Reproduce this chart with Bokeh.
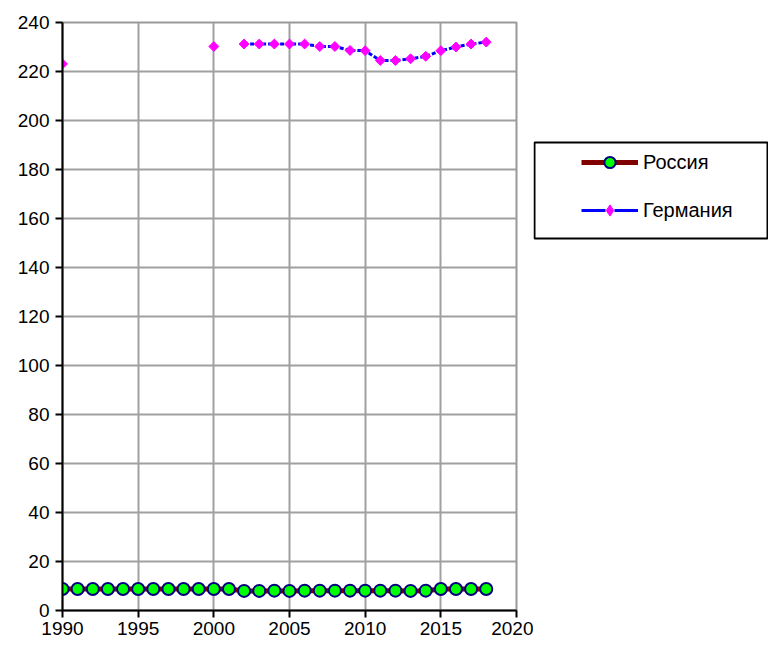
import numpy as np
from bokeh.plotting import figure
from bokeh.layouts import row
from bokeh.models import (ColumnDataSource, Range1d, FixedTicker, Legend, LegendItem,
                          BoxAnnotation)
from bokeh.embed import file_html
from bokeh.resources import INLINE

# ---- data ----
years = list(range(1990, 2019))
russia = [8.8, 8.8, 8.8, 8.8, 8.8, 8.8, 8.8, 8.8, 8.8, 8.8, 8.8, 8.8,
          8.0, 8.0, 8.1, 8.0, 8.1, 8.1, 8.1, 8.1, 8.1, 8.1, 8.1, 8.0, 8.1,
          8.8, 8.8, 8.8, 8.8]
germany = [223.1, None, None, None, None, None, None, None, None, None,
           230.2, None, 231.2, 231.2, 231.2, 231.2, 231.2, 230.2, 230.2,
           228.6, 228.5, 224.5, 224.5, 225.2, 226.2, 228.5, 230.0, 231.2, 232.0]
x_ticks = [1990, 1995, 2000, 2005, 2010, 2015, 2020]
y_ticks = list(range(0, 241, 20))
series_names = ["Россия", "Германия"]

germany_arr = np.array([np.nan if v is None else v for v in germany], dtype=float)

src_ru = ColumnDataSource(dict(x=years, y=russia))
src_de = ColumnDataSource(dict(x=years, y=germany_arr))

FONT = "Liberation Sans"
H = 643
FRAME_TOP, FRAME_BOTTOM = 22, 610  # frame edges in page pixels

RU_LINE = dict(line_color="#800000", line_width=5)
RU_PTS = dict(marker="circle", size=12, fill_color="#00ff00", line_color="#000080", line_width=2)
DE_LINE = dict(line_color="#0000ff", line_width=3, line_dash="4 2")
DE_PTS = dict(marker="square", size=7, angle=np.pi / 4, fill_color="#ff00ff",
              line_color="#ff00ff", line_width=1)

p = figure(width=533, height=H, output_backend="svg", toolbar_location=None,
           x_range=Range1d(1990, 2020), y_range=Range1d(0, 240),
           min_border_left=62, min_border_right=17, min_border_top=FRAME_TOP,
           min_border_bottom=H - FRAME_BOTTOM)
p.background_fill_color = "white"
p.border_fill_color = "white"
p.outline_line_color = "#999999"
p.outline_line_width = 2

for ax, ticks in ((p.xaxis[0], x_ticks), (p.yaxis[0], y_ticks)):
    ax.ticker = FixedTicker(ticks=ticks)
    ax.axis_line_color = "black"
    ax.axis_line_width = 2
    ax.major_tick_line_color = "black"
    ax.major_tick_line_width = 2
    ax.major_tick_out = 7
    ax.major_tick_in = 0
    ax.minor_tick_line_color = None
    ax.major_label_text_font = FONT
    ax.major_label_text_font_size = "19px"
    ax.major_label_text_color = "black"
p.xaxis.major_label_standoff = 4
p.yaxis.major_label_standoff = 6

p.xgrid.ticker = FixedTicker(ticks=x_ticks)
p.ygrid.ticker = FixedTicker(ticks=y_ticks)
for g in (p.xgrid[0], p.ygrid[0]):
    g.grid_line_color = "#a0a0a0"
    g.grid_line_width = 2

p.line("x", "y", source=src_ru, **RU_LINE)
p.scatter("x", "y", source=src_ru, **RU_PTS)
p.line("x", "y", source=src_de, **DE_LINE)
p.scatter("x", "y", source=src_de, **DE_PTS)

# ---- legend panel (its frame is aligned with the main frame by the row) ----
LW = 235
lg = figure(width=LW, height=H, output_backend="svg", toolbar_location=None,
            x_range=Range1d(0, LW), y_range=Range1d(FRAME_BOTTOM, FRAME_TOP),
            x_axis_location=None, y_axis_location=None,
            min_border=0, min_border_left=0, min_border_right=0,
            min_border_top=FRAME_TOP, min_border_bottom=H - FRAME_BOTTOM)
lg.grid.visible = False
lg.outline_line_color = None
lg.background_fill_color = "white"
lg.border_fill_color = "white"

# off-screen placeholder points so that the legend can draw its glyphs
dummy = ColumnDataSource(dict(x=[-1000, -999], y=[-1000, -1000]))
l1 = lg.line("x", "y", source=dummy, **RU_LINE)
s1 = lg.scatter("x", "y", source=dummy, marker="circle", fill_color="#00ff00",
                line_color="#000080", line_width=2)
l2 = lg.line("x", "y", source=dummy, line_color="#0000ff", line_width=3, line_dash="24 9")
s2 = lg.scatter("x", "y", source=dummy, marker="diamond", fill_color="#ff00ff",
                line_color="#ff00ff", line_width=1)

box = BoxAnnotation(left=1, right=LW - 1, top=142, bottom=238,
                    fill_color="white", fill_alpha=1.0,
                    line_color="black", line_alpha=1.0, line_width=2)
lg.add_layout(box)

GH, SP = 28, 20
leg_top = 162 - GH // 2
leg_h = 2 * GH + SP
legend = Legend(items=[LegendItem(label=series_names[0], renderers=[l1, s1], index=0),
                       LegendItem(label=series_names[1], renderers=[l2, s2], index=0)],
                location=(48, FRAME_BOTTOM - leg_top - leg_h), padding=0, spacing=SP, margin=0,
                glyph_width=57, glyph_height=GH, label_height=GH,
                label_standoff=5,
                label_text_font=FONT, label_text_font_size="20px",
                label_text_color="black",
                border_line_color=None, background_fill_alpha=0)
lg.add_layout(legend, "center")

layout = row(p, lg, spacing=0)
open("out.html", "w").write(file_html(layout, INLINE))
